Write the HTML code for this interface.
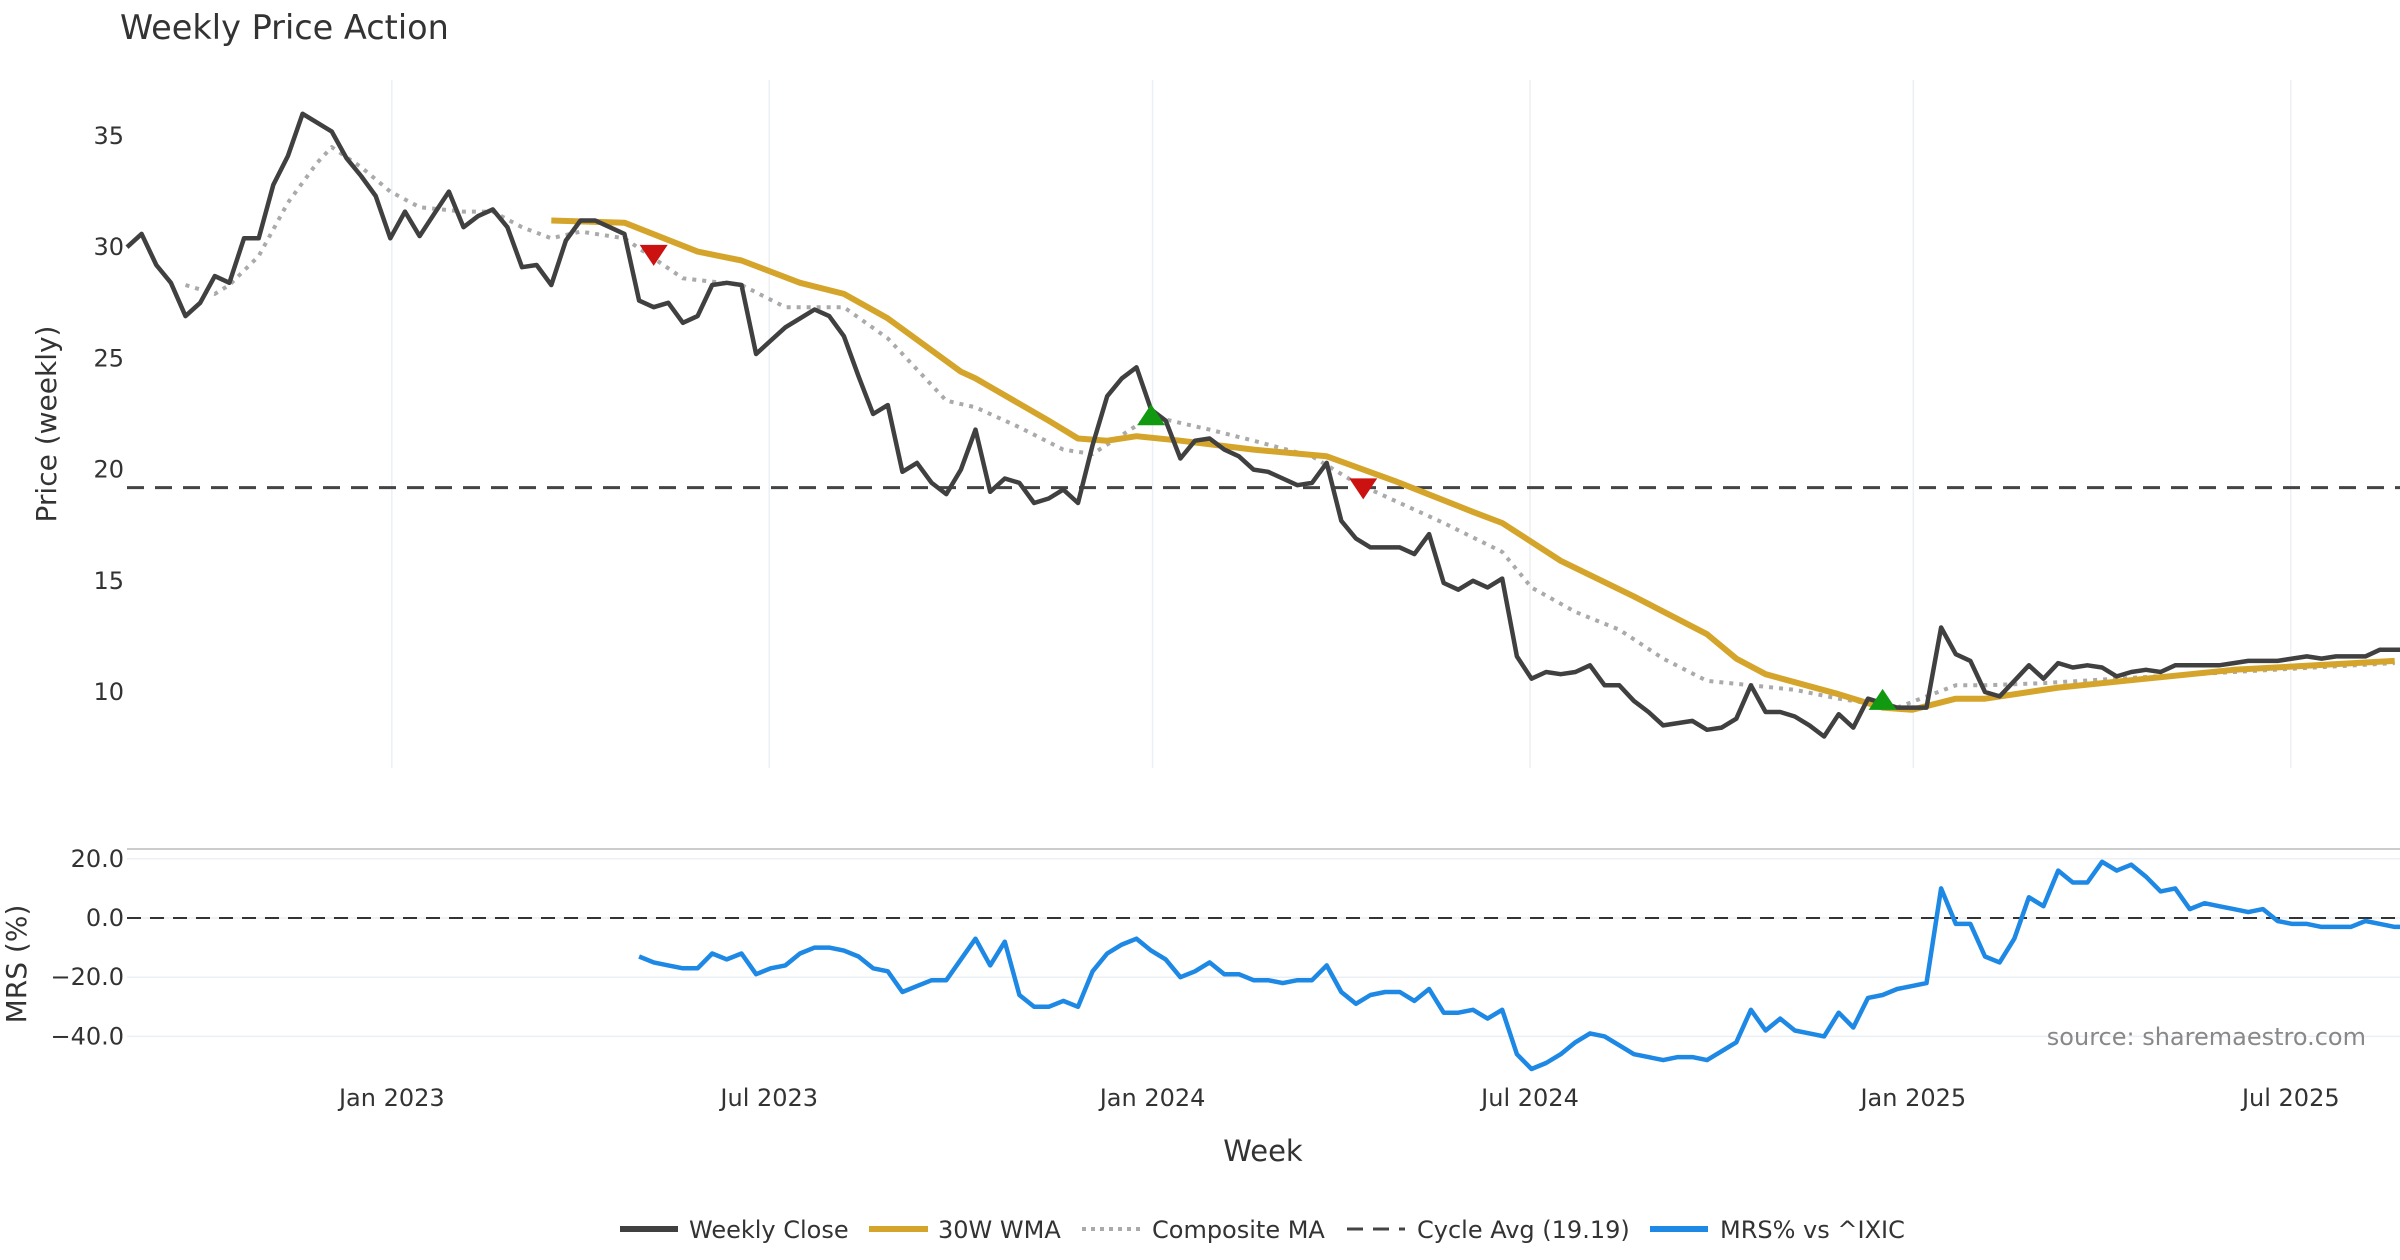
<!DOCTYPE html>
<html><head><meta charset="utf-8"><style>
html,body{margin:0;padding:0;background:#fff;}
svg{display:block;font-family:"DejaVu Sans","Liberation Sans",sans-serif;}
</style></head><body>
<svg id="chart" width="2400" height="1260" viewBox="0 0 2400 1260">
<text x="120" y="39" font-size="33.5" fill="#333">Weekly Price Action</text>
<g id="grid"></g><g id="series"></g><g id="axes"></g>
<text transform="translate(56,424) rotate(-90)" text-anchor="middle" font-size="28" fill="#333">Price (weekly)</text>
<text transform="translate(26,964) rotate(-90)" text-anchor="middle" font-size="28" fill="#333">MRS (%)</text>
<text x="1263" y="1161" text-anchor="middle" font-size="29" fill="#333">Week</text>
<text x="2366" y="1045" text-anchor="end" font-size="24" fill="#888">source: sharemaestro.com</text>
<g id="legend" font-size="24" fill="#333">
<line x1="620" y1="1229" x2="678" y2="1229" stroke="#404040" stroke-width="6"/>
<text x="689" y="1238">Weekly Close</text>
<line x1="869" y1="1229" x2="928" y2="1229" stroke="#d4a52a" stroke-width="6"/>
<text x="938" y="1238">30W WMA</text>
<line x1="1082" y1="1229" x2="1140" y2="1229" stroke="#aaa" stroke-width="4" stroke-dasharray="4 5"/>
<text x="1152" y="1238">Composite MA</text>
<line x1="1347" y1="1229" x2="1405" y2="1229" stroke="#444" stroke-width="3" stroke-dasharray="16 10"/>
<text x="1417" y="1238">Cycle Avg (19.19)</text>
<line x1="1650" y1="1229" x2="1708" y2="1229" stroke="#1e88e5" stroke-width="6"/>
<text x="1720" y="1238">MRS% vs ^IXIC</text>
</g>
</svg>
<script>
const closes=[30.0,30.6,29.2,28.4,26.9,27.5,28.7,28.4,30.4,30.4,32.8,34.1,36.0,35.6,35.2,34.0,33.2,32.3,30.4,31.6,30.5,31.5,32.5,30.9,31.4,31.7,30.9,29.1,29.2,28.3,30.3,31.2,31.2,30.9,30.6,27.6,27.3,27.5,26.6,26.9,28.3,28.4,28.3,25.2,25.8,26.4,26.8,27.2,26.9,26.0,24.2,22.5,22.9,19.9,20.3,19.4,18.9,20.0,21.8,19.0,19.6,19.4,18.5,18.7,19.1,18.5,21.1,23.3,24.1,24.6,22.7,22.2,20.5,21.3,21.4,20.9,20.6,20.0,19.9,19.6,19.3,19.4,20.3,17.7,16.9,16.5,16.5,16.5,16.2,17.1,14.9,14.6,15.0,14.7,15.1,11.6,10.6,10.9,10.8,10.9,11.2,10.3,10.3,9.6,9.1,8.5,8.6,8.7,8.3,8.4,8.8,10.3,9.1,9.1,8.9,8.5,8.0,9.0,8.4,9.7,9.5,9.3,9.3,9.3,12.9,11.7,11.4,10.0,9.8,10.5,11.2,10.6,11.3,11.1,11.2,11.1,10.7,10.9,11.0,10.9,11.2,11.2,11.2,11.2,11.3,11.4,11.4,11.4,11.5,11.6,11.5,11.6,11.6,11.6,11.9,11.9,11.9];
const wmaWeeks=[29,34,39,42,46,49,52,57,58,63,65,67,69,72,77,82,87,92,94,98,103,108,110,112,117,120,122,125,127,132,138,144,155];
const wmaValues=[31.2,31.1,29.8,29.4,28.4,27.9,26.8,24.4,24.1,22.2,21.4,21.3,21.5,21.3,20.9,20.6,19.4,18.1,17.6,15.9,14.3,12.6,11.5,10.8,9.9,9.3,9.2,9.7,9.7,10.2,10.6,11.0,11.4];
const compWeeks=[4,6,7,9,11,13,14,16,18,20,23,25,27,29,31,34,38,42,45,49,52,56,58,61,64,66,70,74,77,81,84,87,90,94,96,99,102,105,108,111,114,117,121,125,127,131,136,144,155];
const compValues=[28.3,27.9,28.3,29.6,32.0,33.8,34.5,33.6,32.5,31.8,31.6,31.6,30.9,30.4,30.7,30.4,28.6,28.3,27.3,27.3,25.9,23.1,22.8,21.9,20.9,20.7,22.4,21.8,21.3,20.6,19.4,18.5,17.6,16.3,14.7,13.6,12.8,11.5,10.5,10.3,10.1,9.7,9.3,10.3,10.3,10.4,10.6,10.9,11.3];
const cycleAvg=19.19;
const mrsStart=35;
const mrsValues=[-13,-15,-16,-17,-17,-12,-14,-12,-19,-17,-16,-12,-10,-10,-11,-13,-17,-18,-25,-23,-21,-21,-14,-7,-16,-8,-26,-30,-30,-28,-30,-18,-12,-9,-7,-11,-14,-20,-18,-15,-19,-19,-21,-21,-22,-21,-21,-16,-25,-29,-26,-25,-25,-28,-24,-32,-32,-31,-34,-31,-46,-51,-49,-46,-42,-39,-40,-43,-46,-47,-48,-47,-47,-48,-45,-42,-31,-38,-34,-38,-39,-40,-32,-37,-27,-26,-24,-23,-22,10,-2,-2,-13,-15,-7,7,4,16,12,12,19,16,18,14,9,10,3,5,4,3,2,3,-1,-2,-2,-3,-3,-3,-1,-2,-3,-3];
const sellWeeks=[36,84.5];const sellValues=[29.7,19.2];
const buyWeeks=[70,120];const buyValues=[22.4,9.6];
const priceTicks=[10,15,20,25,30,35];
const mrsTicks=[20,0,-20,-40];
const mrsTickLabels=["20.0","0.0","\u221220.0","\u221240.0"];
const dateLabels=["Jan 2023","Jul 2023","Jan 2024","Jul 2024","Jan 2025","Jul 2025"];
const dateWeeks=[18.1,43.9,70.1,95.9,122.1,147.9];

const NS="http://www.w3.org/2000/svg";
const X0=127,DX=14.63;
const xs=w=>X0+w*DX;
const yp=v=>692-(v-10)*22.24;
const ym=v=>918-v*2.96;
function mk(tag,attrs,parent){const e=document.createElementNS(NS,tag);for(const k in attrs)e.setAttribute(k,attrs[k]);parent.appendChild(e);return e;}
const grid=document.getElementById('grid'),ser=document.getElementById('series'),axes=document.getElementById('axes');

dateWeeks.forEach((w,i)=>{
  const l=mk('line',{x1:xs(w),x2:xs(w),y1:80,y2:768,stroke:'#eceff3','stroke-width':1.5},grid);
  
  
  const t=mk('text',{x:xs(w),y:1106,'text-anchor':'middle','font-size':24,fill:'#333'},axes);
  t.textContent=dateLabels[i];
  
  
});
priceTicks.forEach(v=>{
  const t=mk('text',{x:124,y:yp(v)+8,'text-anchor':'end','font-size':24,fill:'#333'},axes);
  t.textContent=v;
  
  
});
mrsTicks.forEach((v,i)=>{
  const l=mk('line',{x1:127,x2:2400,y1:ym(v),y2:ym(v),stroke:'#eceff3','stroke-width':1.5},grid);
  
  
  const t=mk('text',{x:124,y:ym(v)+8,'text-anchor':'end','font-size':24,fill:'#333'},axes);
  t.textContent=mrsTickLabels[i];
  
  
});
const sep=mk('line',{x1:127,x2:2400,y1:849,y2:849,stroke:'#ccc','stroke-width':2},grid);



function path(ptsX,ptsY,attrs,name){
  const d=ptsX.map((x,i)=>(i?'L':'M')+x.toFixed(1)+','+ptsY[i].toFixed(1)).join('');
  const p=mk('path',Object.assign({d:d,fill:'none','stroke-linejoin':'round'},attrs),ser);
  
  
}
const ca=mk('line',{x1:127,x2:2400,y1:yp(cycleAvg),y2:yp(cycleAvg),stroke:'#444','stroke-width':3,'stroke-dasharray':'17 11'},ser);


path(compWeeks.map(xs),compValues.map(yp),{stroke:'#aaa','stroke-width':4,'stroke-dasharray':'4 6'},'composite-ma-line');
path(wmaWeeks.map(xs),wmaValues.map(yp),{stroke:'#d4a52a','stroke-width':6},'wma-line');
path(closes.map((v,i)=>xs(i)),closes.map(yp),{stroke:'#404040','stroke-width':4.5},'weekly-close-line');
sellWeeks.forEach((w,i)=>{const x=xs(w),y=yp(sellValues[i]);
  const p=mk('polygon',{points:`${x-14},${y-9} ${x+14},${y-9} ${x},${y+12}`,fill:'#cc1111'},ser);
  
  });
buyWeeks.forEach((w,i)=>{const x=xs(w),y=yp(buyValues[i]);
  const p=mk('polygon',{points:`${x-14},${y+9} ${x+14},${y+9} ${x},${y-12}`,fill:'#119911'},ser);
  
  });
const z=mk('line',{x1:127,x2:2400,y1:ym(0),y2:ym(0),stroke:'#333','stroke-width':2,'stroke-dasharray':'14 9'},ser);


path(mrsValues.map((v,i)=>xs(mrsStart+i)),mrsValues.map(ym),{stroke:'#1e88e5','stroke-width':4.5},'mrs-line');
</script>
</body></html>
